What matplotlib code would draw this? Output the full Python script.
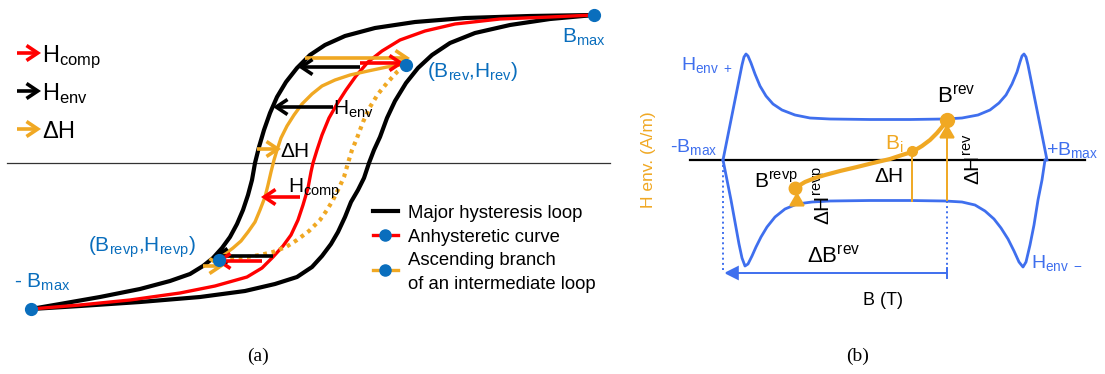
import numpy as np
import matplotlib
matplotlib.use("Agg")
from matplotlib import pyplot as plt
from matplotlib.patches import FancyArrowPatch

plt.rcParams['font.family'] = ['Liberation Sans', 'DejaVu Sans']
plt.rcParams['mathtext.fontset'] = 'custom'
plt.rcParams['mathtext.rm'] = 'Liberation Sans'
plt.rcParams['mathtext.it'] = 'Liberation Sans:italic'
plt.rcParams['mathtext.bf'] = 'Liberation Sans:bold'

# %% colores
BLACK = '#000000'
RED = '#FF0000'
ORANGE = '#F0A823'
BLUE_DOT = '#0A6EBD'
BLUE_ENV = '#3F6FEE'

# %% (a) datos (coordenadas en pixeles)
# rama descendente del ciclo mayor
major_desc_x = [31, 60, 100, 140, 170, 190, 203, 213, 222, 230, 237, 243, 248, 252, 255,
                259, 264, 270, 277, 286, 297, 310, 325, 345, 375, 415, 465, 530, 594]
major_desc_y = [309, 304, 297, 289, 281, 274, 266, 258, 248, 237, 224, 210, 195, 180, 163,
                147, 130, 113, 97, 82, 68, 55, 45, 36, 28, 22, 18, 16, 15]
# rama ascendente del ciclo mayor
major_asc_x = [31, 80, 140, 200, 245, 275, 297, 312, 322, 331, 338, 345, 351, 358, 364,
               369, 374, 380, 387, 395, 406, 418, 432, 450, 475, 510, 550, 594]
major_asc_y = [309, 306, 302, 297, 291, 284, 277, 267, 256, 244, 232, 217, 202, 190, 178,
               163, 150, 137, 118, 101, 83, 68, 55, 43, 33, 25, 19, 15]
# curva anhisteretica
anhyst_x = [31, 80, 130, 180, 215, 247, 262, 273, 283, 291, 298, 303, 308, 311, 313,
            317, 322, 329, 337, 346, 356, 368, 382, 400, 425, 455, 500, 550, 594]
anhyst_y = [309, 305, 300, 293, 286, 277, 268, 257, 246, 235, 220, 205, 188, 172, 163,
            150, 135, 118, 104, 90, 76, 62, 51, 40, 31, 24, 19, 17, 15]
# rama ascendente del ciclo intermedio
inter_x = [218, 225, 233, 241, 248, 255, 260, 265, 268, 271, 274, 277, 281, 287, 294,
           302, 312, 322, 335, 350, 368, 387, 407]
inter_y = [259, 254, 248, 241, 232, 222, 210, 197, 185, 172, 160, 150, 138, 126, 115,
           104, 94, 86, 80, 75, 71, 67, 64]
# rama descendente punteada
inter_dot_x = [222, 235, 247, 260, 273, 286, 297, 309, 320, 327, 333, 339, 344, 348,
               352, 357, 363, 370, 378, 387, 397, 406]
inter_dot_y = [259, 258, 257, 255, 252, 247, 240, 231, 220, 210, 200, 188, 177, 163,
               150, 138, 122, 107, 94, 83, 72, 65]

# puntos (B, H)
pts_a_x = [594, 31, 406, 219]
pts_a_y = [15, 309, 65, 260]

# flechas (x inicio, x punta, y, color)
arrows_a = [
    (305, 410, 58, ORANGE),
    (360, 404, 63, RED),
    (360, 298, 67, BLACK),
    (333, 273, 107, BLACK),
    (257, 281, 149, ORANGE),
    (300, 261, 197, RED),
    (273, 213, 256, BLACK),
    (262, 216, 261, RED),
    (203, 224, 266, ORANGE),
]

# %% (b) datos
env_top_x = [723, 727, 731, 735, 739, 742, 744, 746, 748, 751, 755, 760, 766, 773, 782,
             795, 810, 830, 870, 910, 945, 962, 978, 990, 999, 1006, 1012, 1017, 1020,
             1022, 1024, 1026, 1028, 1031, 1035, 1039, 1043, 1047]
env_top_y = [160, 140, 120, 100, 80, 65, 57, 54, 56, 63, 74, 86, 96, 104, 110,
             115, 118, 119, 119.5, 119.5, 119, 118, 115, 110, 103, 95, 84, 72, 62,
             56, 54, 57, 65, 80, 100, 120, 140, 160]
env_bot_x = [723, 727, 731, 735, 739, 742, 745, 748, 752, 756, 761, 767, 775, 785, 797,
             812, 830, 870, 910, 945, 962, 975, 985, 994, 1001, 1008, 1014, 1019, 1023,
             1026, 1030, 1034, 1038, 1042, 1045]
env_bot_y = [160, 180, 200, 222, 244, 258, 266, 264, 256, 247, 237, 227, 217, 209, 204,
             202, 201, 200.5, 200.5, 201, 202, 205, 211, 219, 228, 239, 251, 262, 267,
             262, 245, 225, 200, 180, 160]
path_b_x = [795, 805, 815, 825, 840, 857, 873, 890, 902, 912, 922, 930, 937, 942, 947]
path_b_y = [188, 182, 178, 175, 171, 167, 163, 159, 155, 152, 146, 140, 133, 127, 120]
pts_b_x = [795, 912, 947]
pts_b_y = [188, 151, 120]
pts_b_size = [9, 7, 10]

# %% figura
fig = plt.figure(figsize=(11.05, 3.74), dpi=100)
ax = fig.add_axes([0, 0, 1, 1])
ax.set_xlim(0, 1105)
ax.set_ylim(374, 0)
ax.axis('off')


def arrow(x0, y0, x1, y1, color, lw, style='->,head_length=0.45,head_width=0.3', ms=18):
    ax.add_patch(FancyArrowPatch((x0, y0), (x1, y1), arrowstyle=style, mutation_scale=ms,
                                 color=color, lw=lw, shrinkA=0, shrinkB=0, zorder=6,
                                 joinstyle='miter', capstyle='butt'))


# ---- (a)
ax.plot([7, 610], [163, 163], color='#333333', lw=0.9, zorder=1)
ax.plot(major_desc_x, major_desc_y, color=BLACK, lw=3.0, zorder=2, solid_capstyle='round')
ax.plot(major_asc_x, major_asc_y, color=BLACK, lw=3.0, zorder=2, solid_capstyle='round')
ax.plot(anhyst_x, anhyst_y, color=RED, lw=2.4, zorder=3)
ax.plot(inter_dot_x, inter_dot_y, color=ORANGE, lw=3.0, ls=(0, (0.9, 1.1)), zorder=3)
ax.plot(inter_x, inter_y, color=ORANGE, lw=2.4, zorder=4)

for x0, x1, y, c in arrows_a:
    arrow(x0, y, x1, y, c, 2.6)

ax.plot(pts_a_x, pts_a_y, 'o', color=BLUE_DOT, ms=8.5, zorder=7)

fs_lab = 15
ax.text(333, 115, r'$\mathrm{H_{env}}$', fontsize=fs_lab, va='baseline')
ax.text(280, 157, r'$\mathrm{\Delta H}$', fontsize=fs_lab, va='baseline')
ax.text(288, 193, r'$\mathrm{H_{comp}}$', fontsize=fs_lab, va='baseline')

ax.text(562, 43, r'$\mathrm{B_{max}}$', fontsize=fs_lab, color=BLUE_DOT, va='baseline')
ax.text(427, 77, r'$\mathrm{(B_{rev}{,}H_{rev})}$', fontsize=fs_lab, color=BLUE_DOT, va='baseline')
ax.text(14, 288, r'- $\mathrm{B_{max}}$', fontsize=fs_lab, color=BLUE_DOT, va='baseline')
ax.text(88, 252, r'$\mathrm{(B_{revp}{,}H_{revp})}$', fontsize=fs_lab, color=BLUE_DOT, va='baseline')

# leyenda de flechas
leg_arrows = [(53, RED, r'$\mathrm{H_{comp}}$'), (91, BLACK, r'$\mathrm{H_{env}}$'),
              (129, ORANGE, r'$\mathrm{\Delta H}$')]
for y, c, lab in leg_arrows:
    arrow(17, y, 41, y, c, 2.6)
    ax.text(42, y + 9, lab, fontsize=17, va='baseline')

# leyenda de curvas
fs_leg = 13.3
ax.plot([373, 398], [211, 211], color=BLACK, lw=3.0)
ax.text(408, 218, 'Major hysteresis loop', fontsize=fs_leg, va='baseline')
ax.plot([373, 398], [235, 235], color=RED, lw=2.4)
ax.plot([385], [235], 'o', color=BLUE_DOT, ms=8)
ax.text(408, 242, 'Anhysteretic curve', fontsize=fs_leg, va='baseline')
ax.plot([373, 398], [270, 270], color=ORANGE, lw=2.4)
ax.plot([385], [270], 'o', color=BLUE_DOT, ms=8)
ax.text(408, 265, 'Ascending branch', fontsize=fs_leg, va='baseline')
ax.text(408, 289, 'of an intermediate loop', fontsize=fs_leg, va='baseline')

# ---- (b)
ax.plot([690, 1085], [160, 160], color=BLACK, lw=1.6, zorder=2)
ax.plot(env_top_x, env_top_y, color=BLUE_ENV, lw=2.0, zorder=3)
ax.plot(env_bot_x, env_bot_y, color=BLUE_ENV, lw=2.0, zorder=3)
ax.plot([723, 723], [165, 273], color=BLUE_ENV, lw=1.4, ls=':', zorder=3)
ax.plot([947, 947], [201, 273], color=BLUE_ENV, lw=1.4, ls=':', zorder=3)
arrow(947, 273, 724, 273, BLUE_ENV, 1.4, style='-|>,head_length=0.6,head_width=0.3', ms=14)
ax.plot([947, 947], [268, 278], color=BLUE_ENV, lw=1.4)

ax.plot([912, 912], [152, 201], color=ORANGE, lw=1.4, zorder=3)
arrow(947, 201, 947, 124, ORANGE, 1.4, style='-|>,head_length=0.6,head_width=0.35', ms=14)
arrow(797, 201, 797, 192, ORANGE, 1.4, style='-|>,head_length=0.6,head_width=0.35', ms=14)
ax.plot(path_b_x, path_b_y, color=ORANGE, lw=3.0, zorder=4, solid_capstyle='round')
for x, y, s in zip(pts_b_x, pts_b_y, pts_b_size):
    ax.plot([x], [y], 'o', color=ORANGE, ms=s, zorder=5)

ax.text(681, 70, r'$\mathrm{H_{env\ +}}$', fontsize=14, color=BLUE_ENV, va='baseline')
ax.text(670, 152, r'-$\mathrm{B_{max}}$', fontsize=14, color=BLUE_ENV, va='baseline')
ax.text(1046, 155, r'$\mathrm{+B_{max}}$', fontsize=14, color=BLUE_ENV, va='baseline')
ax.text(1031, 268, r'$\mathrm{H_{env\ -}}$', fontsize=14, color=BLUE_ENV, va='baseline')
ax.text(648, 160, 'H env. (A/m)', fontsize=12.5, color=ORANGE, rotation=90,
        ha='center', va='center')

ax.text(937, 103, r'$\mathrm{B^{rev}}$', fontsize=16, va='baseline')
ax.text(885, 150, r'$\mathrm{B_{i}}$', fontsize=15, color=ORANGE, va='baseline')
ax.text(874, 182, r'$\mathrm{\Delta H}$', fontsize=15, va='baseline')
ax.text(754, 188, r'$\mathrm{B^{revp}}$', fontsize=15, va='baseline')
ax.text(980, 185, r'$\mathrm{\Delta H^{rev}}$', fontsize=15, rotation=90,
        rotation_mode='anchor', ha='left', va='baseline')
ax.text(830, 225, r'$\mathrm{\Delta H^{revp}}$', fontsize=15, rotation=90,
        rotation_mode='anchor', ha='left', va='baseline')
ax.text(807, 263, r'$\mathrm{\Delta B^{rev}}$', fontsize=16, va='baseline')
ax.text(863, 305, 'B (T)', fontsize=13, va='baseline')

# leyendas (a) (b)
ax.text(258, 356, '(a)', fontsize=14, family='Liberation Serif', ha='center', va='center')
ax.text(858, 356, '(b)', fontsize=14, family='Liberation Serif', ha='center', va='center')

fig.savefig('out.png', dpi=100)
